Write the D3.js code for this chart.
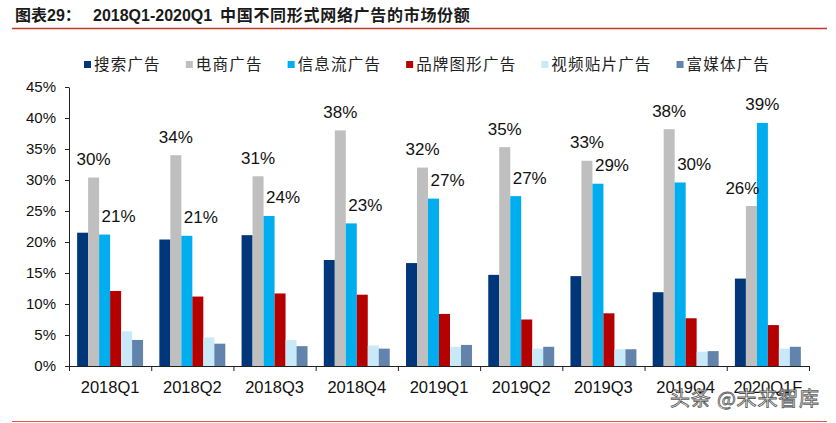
<!DOCTYPE html>
<html>
<head>
<meta charset="utf-8">
<script src="https://cdn.jsdelivr.net/npm/d3@7"></script>
<style>
  body { margin: 0; background: #fff; }
  svg { display: block; }
</style>
</head>
<body>
<svg id="chart"></svg>
<script>
////////////
// DATA
////////////
const quarters = ["2018Q1", "2018Q2", "2018Q3", "2018Q4", "2019Q1", "2019Q2", "2019Q3", "2019Q4", "2020Q1F"];
const seriesNames = ["搜索广告", "电商广告", "信息流广告", "品牌图形广告", "视频贴片广告", "富媒体广告"];

// share of each ad type, percent
const search    = [21.5, 20.4, 21.1, 17.1, 16.6, 14.7, 14.5, 11.9, 14.1];
const ecommerce = [30.4, 34.0, 30.6, 38.0, 32.0, 35.3, 33.1, 38.2, 25.8];
const feed      = [21.2, 21.0, 24.2, 23.0, 27.0, 27.4, 29.4, 29.6, 39.2];
const brand     = [12.1, 11.2, 11.7, 11.5, 8.4, 7.5, 8.5, 7.7, 6.6];
const video     = [5.6, 4.6, 4.2, 3.3, 3.1, 2.8, 2.7, 2.3, 2.8];
const richMedia = [4.2, 3.6, 3.2, 2.8, 3.4, 3.1, 2.7, 2.4, 3.1];

const yTicks = [0, 5, 10, 15, 20, 25, 30, 35, 40, 45];

const colors = ["#00377a", "#bfbfbf", "#00aeef", "#b50000", "#c8e9f7", "#6283ab"];
const allSeries = [search, ecommerce, feed, brand, video, richMedia];

////////////
// SETUP
////////////
const width = 836, height = 423;
const svg = d3.select("#chart").attr("width", width).attr("height", height);
svg.append("rect").attr("width", width).attr("height", height).attr("fill", "#fff");

const latin = "'Liberation Sans', Arial, sans-serif";
const cjk = "'Noto Sans CJK SC', sans-serif";

const plot = { left: 69, right: 809, top: 87, bottom: 366 };

const x0 = d3.scaleBand()
    .domain(quarters)
    .range([plot.left, plot.right])
    .padding(0);

const x1 = d3.scaleBand()
    .domain(d3.range(seriesNames.length))
    .range([0, x0.bandwidth()])
    .paddingInner(0)
    .paddingOuter(0.74);

const y = d3.scaleLinear()
    .domain([0, 45])
    .range([plot.bottom, plot.top]);

////////////
// TITLE
////////////
const title = svg.append("text")
    .attr("y", 20.5)
    .attr("font-weight", "bold")
    .attr("fill", "#1a1a1a")
    .attr("font-size", 16);
title.append("tspan").attr("x", 15).attr("font-family", cjk).text("图表");
title.append("tspan").attr("font-family", latin).text("29");
title.append("tspan").attr("font-family", cjk).text("：");
title.append("tspan").attr("x", 93).attr("font-family", latin).text("2018Q1-2020Q1");
title.append("tspan").attr("x", 220).attr("font-family", cjk)
    .attr("font-size", 16).attr("letter-spacing", 0.7)
    .text("中国不同形式网络广告的市场份额");

svg.append("line")
    .attr("x1", 12).attr("x2", 827)
    .attr("y1", 28.5).attr("y2", 28.5)
    .attr("stroke", "#c0392b").attr("stroke-width", 1.5);

svg.append("line")
    .attr("x1", 12).attr("x2", 827)
    .attr("y1", 421.5).attr("y2", 421.5)
    .attr("stroke", "#de5a55").attr("stroke-width", 1.2);

////////////
// LEGEND
////////////
const legend = svg.append("g").attr("class", "legend");
let lx = 84;
seriesNames.forEach(function (name, i) {
    legend.append("rect")
        .attr("x", lx).attr("y", 61)
        .attr("width", 7).attr("height", 7)
        .attr("fill", colors[i]);
    const t = legend.append("text")
        .attr("x", lx + 10).attr("y", 70)
        .attr("font-family", cjk)
        .attr("font-size", 15.5)
        .attr("letter-spacing", 1.2)
        .attr("fill", "#222")
        .text(name);
    lx += 10 + t.node().getComputedTextLength() + 25;
});

////////////
// AXES
////////////
const yAxis = svg.append("g")
    .attr("transform", `translate(${plot.left},0)`)
    .call(d3.axisLeft(y).tickValues(yTicks).tickSize(4).tickSizeOuter(0)
        .tickFormat(d => d + "%"));
yAxis.selectAll("text")
    .attr("font-family", latin).attr("font-size", 15)
    .attr("fill", "#111").attr("dx", -6);
yAxis.selectAll("line, path").attr("stroke", "#222");

const boundary = d3.scaleLinear().domain([0, quarters.length]).range([plot.left, plot.right]);
const xAxis = svg.append("g")
    .attr("transform", `translate(0,${plot.bottom})`)
    .call(d3.axisBottom(boundary).tickValues(d3.range(quarters.length + 1))
        .tickSize(5).tickSizeOuter(0).tickFormat(""));
xAxis.selectAll("line, path").attr("stroke", "#222");

svg.append("g").selectAll("text")
    .data(quarters)
    .join("text")
    .attr("x", d => x0(d) + x0.bandwidth() / 2)
    .attr("y", 393)
    .attr("text-anchor", "middle")
    .attr("font-family", latin)
    .attr("font-size", 16.5)
    .attr("fill", "#111")
    .text(d => d);

////////////
// BARS
////////////
const groups = svg.append("g").selectAll("g")
    .data(quarters)
    .join("g")
    .attr("transform", d => `translate(${x0(d)},0)`);

groups.selectAll("rect")
    .data((q, qi) => allSeries.map((s, si) => ({ si: si, v: s[qi] })))
    .join("rect")
    .attr("x", d => x1(d.si))
    .attr("width", x1.bandwidth())
    .attr("y", d => y(d.v))
    .attr("height", d => plot.bottom - y(d.v))
    .attr("fill", d => colors[d.si]);

// value labels on 电商广告 and 信息流广告
const last = quarters.length - 1;
groups.each(function (q, qi) {
    const g = d3.select(this);
    [1, 2].forEach(function (si) {
        let dx = 0;
        if (si === 2 && qi !== last) dx = 14;
        if (si === 1 && qi === last) dx = -9;
        const v = allSeries[si][qi];
        g.append("text")
            .attr("x", x1(si) + x1.bandwidth() / 2 + dx)
            .attr("y", y(v) - 12.5)
            .attr("text-anchor", "middle")
            .attr("font-family", latin)
            .attr("font-size", 17)
            .attr("fill", "#111")
            .text(Math.round(v) + "%");
    });
});

////////////
// WATERMARK
////////////
svg.append("text")
    .attr("x", 670).attr("y", 406)
    .attr("font-family", cjk)
    .attr("font-size", 20)
    .attr("letter-spacing", 0.8)
    .attr("fill", "#f4f4f4")
    .attr("stroke", "#5a5a5a")
    .attr("stroke-width", 0.8)
    .text("头条 @未来智库");
</script>
</body>
</html>
